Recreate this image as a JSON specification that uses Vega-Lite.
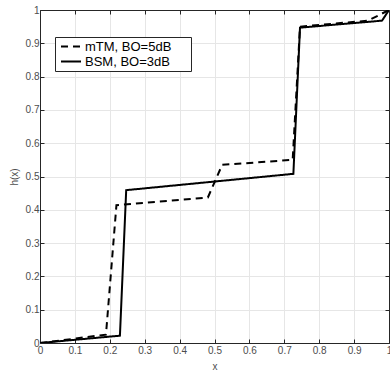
{
  "$schema": "https://vega.github.io/schema/vega-lite/v6.json",
  "width": 349,
  "height": 333,
  "autosize": {"type": "none"},
  "padding": {"left": 40, "top": 10, "right": 1, "bottom": 28},
  "background": "white",
  "config": {
    "font": "Liberation Sans",
    "view": {"stroke": "#262626", "strokeWidth": 1},
    "axis": {
      "grid": true,
      "gridColor": "#e6e6e6",
      "gridWidth": 1,
      "domainColor": "#262626",
      "tickColor": "#262626",
      "tickSize": -4,
      "labelFlush": false,
      "labelColor": "#4d4d4d",
      "labelFontSize": 10,
      "titleColor": "#4d4d4d",
      "titleFontSize": 10,
      "titleFontWeight": "normal"
    }
  },
  "data": {
    "values": [
      {"series": "mTM, BO=5dB", "o": 0, "x": 0, "y": 0},
      {"series": "mTM, BO=5dB", "o": 1, "x": 0.189, "y": 0.025},
      {"series": "mTM, BO=5dB", "o": 2, "x": 0.219, "y": 0.414},
      {"series": "mTM, BO=5dB", "o": 3, "x": 0.481, "y": 0.437},
      {"series": "mTM, BO=5dB", "o": 4, "x": 0.522, "y": 0.535},
      {"series": "mTM, BO=5dB", "o": 5, "x": 0.724, "y": 0.55},
      {"series": "mTM, BO=5dB", "o": 6, "x": 0.745, "y": 0.95},
      {"series": "mTM, BO=5dB", "o": 7, "x": 0.94, "y": 0.968},
      {"series": "mTM, BO=5dB", "o": 8, "x": 1, "y": 1},
      {"series": "BSM, BO=3dB", "o": 0, "x": 0, "y": 0},
      {"series": "BSM, BO=3dB", "o": 1, "x": 0.229, "y": 0.022},
      {"series": "BSM, BO=3dB", "o": 2, "x": 0.247, "y": 0.459},
      {"series": "BSM, BO=3dB", "o": 3, "x": 0.726, "y": 0.508},
      {"series": "BSM, BO=3dB", "o": 4, "x": 0.745, "y": 0.947},
      {"series": "BSM, BO=3dB", "o": 5, "x": 0.98, "y": 0.968},
      {"series": "BSM, BO=3dB", "o": 6, "x": 1, "y": 1}
    ]
  },
  "layer": [
    {
      "mark": {"type": "line", "color": "black", "strokeWidth": 2, "clip": true},
      "encoding": {
        "x": {"field": "x", "type": "quantitative", "scale": {"domain": [0, 1], "nice": false},
          "axis": {"orient": "bottom", "title": "x", "values": [0,0.1,0.2,0.3,0.4,0.5,0.6,0.7,0.8,0.9,1], "format": "~g", "labelPadding": 6, "titlePadding": 6}},
        "y": {"field": "y", "type": "quantitative", "scale": {"domain": [0, 1], "nice": false},
          "axis": {"orient": "left", "title": "h(x)", "values": [0,0.1,0.2,0.3,0.4,0.5,0.6,0.7,0.8,0.9,1], "format": "~g", "labelPadding": 5, "titlePadding": 6}},
        "strokeDash": {"field": "series", "type": "nominal",
          "scale": {"domain": ["mTM, BO=5dB", "BSM, BO=3dB"], "range": [[7, 5], [1, 0]]},
          "legend": {"title": null, "orient": "none", "legendX": 15, "legendY": 27,
            "strokeColor": "#262626", "fillColor": "white", "padding": 2,
            "labelFontSize": 13, "labelColor": "black", "labelLimit": 300,
            "symbolType": "stroke", "symbolSize": 400, "symbolStrokeWidth": 2, "symbolStrokeColor": "black",
            "symbolOffset": 3, "clipHeight": 15, "rowPadding": 0, "labelOffset": 3,
            "labelExpr": "datum.label + '\u00a0\u00a0\u2800'"}},
        "order": {"field": "o", "type": "quantitative"}
      }
    },
    {
      "mark": {"type": "line", "opacity": 0},
      "encoding": {
        "x": {"field": "x", "type": "quantitative", "scale": {"domain": [0, 1], "nice": false},
          "axis": {"orient": "top", "title": null, "labels": false, "grid": false, "values": [0,0.1,0.2,0.3,0.4,0.5,0.6,0.7,0.8,0.9,1]}},
        "y": {"field": "y", "type": "quantitative", "scale": {"domain": [0, 1], "nice": false},
          "axis": {"orient": "right", "title": null, "labels": false, "grid": false, "values": [0,0.1,0.2,0.3,0.4,0.5,0.6,0.7,0.8,0.9,1]}},
        "detail": {"field": "series"}
      }
    }
  ],
  "resolve": {"axis": {"x": "independent", "y": "independent"}}
}
